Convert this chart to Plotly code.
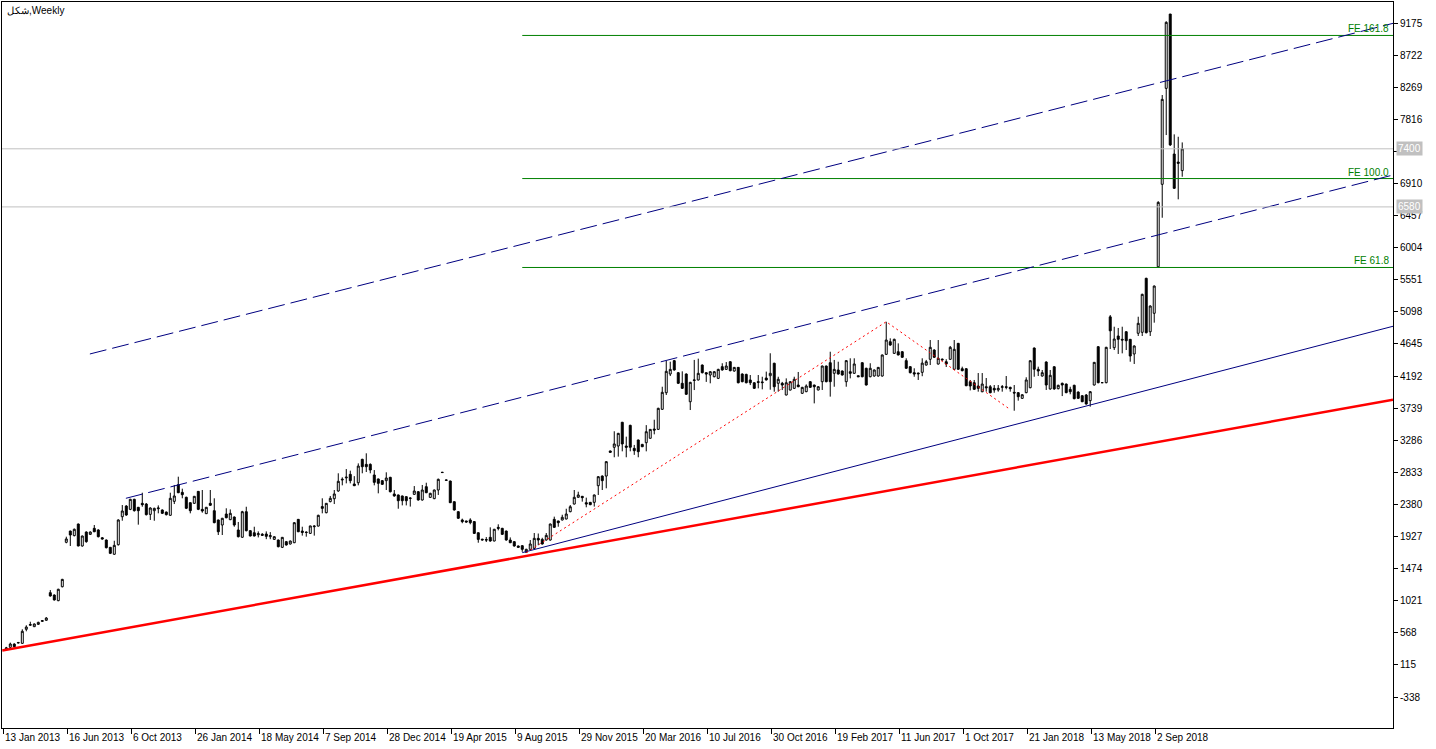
import plotly.graph_objects as go

# weekly bars, index 0 = 13 Jan 2013
opens = [
    340, 364, 410, 425, 420, 618, 675, 655, 688, 730, 745, 1135, 1102, 1022, 1219,
    1846, 2005, 1940, 2104, 1794, 1991, 1958, 2043, 2020, 1910, 1878, 1775, 1677, 1812,
    2207, 2358, 2311, 2453, 2340, 2396, 2386, 2240, 2292, 2320, 2302, 2273, 2227, 2424,
    2659, 2551, 2481, 2405, 2396, 2565, 2311, 2250, 2396, 2292, 2161, 2090, 2245, 2165,
    2203, 2020,
    1917, 2278, 2010, 1981, 1953, 1960, 1963, 1925, 1887, 1878, 1775, 1855, 1822, 1840,
    2170, 2005, 1990, 1972, 2066, 2075, 2350, 2264, 2420, 2461, 2570, 2725, 2755, 2805,
    2669, 2687, 3017, 2946, 2946, 2796, 2740, 2716, 2716, 2763, 2528, 2514, 2500, 2490,
    2465, 2523, 2560, 2443, 2631, 2480, 2462, 2584, 2830, 2720, 2711, 2419, 2278, 2161,
    2147,
    2161, 2138, 1981, 1890, 1885, 1916, 1864, 2057, 2043, 2005, 1878, 1855, 1794, 1798,
    1705, 1747, 1760, 1902, 1887, 1878, 1878, 2170, 2147, 2161, 2175, 2278, 2386, 2481,
    2495, 2405, 2410, 2410, 2645, 2781, 2781, 3135, 3187, 3205, 3540, 3205, 3497, 3172,
    3290, 3228, 3252, 3314, 3445, 3440, 3723, 3957, 4221, 4410, 4240, 4090, 4221, 3830,
    4130, 4137,
    4348, 4240, 4207, 4183, 4160, 4325, 4287, 4395, 4263, 4315, 4221, 4216, 4137, 4098,
    4113, 4110, 4165, 4197, 4373, 4090, 4090, 3925, 3995, 4019, 4066, 3949, 3972, 4113,
    4066, 3996, 4113, 4334, 4381, 4231, 4278, 4264, 4113, 4254, 4231, 4197, 4381, 4302,
    4183, 4193, 4193, 4193, 4499, 4677, 4513, 4536, 4536, 4410, 4325, 4240, 4235, 4245,
    4348, 4429,
    4560, 4362, 4419, 4395, 4429, 4288, 4654, 4296, 4296, 4113, 4099, 4052, 3971, 4042,
    4042, 4019, 3996, 4033, 4042, 4033, 3963, 3958, 3878, 3958, 4028, 4588, 4288, 4193,
    4391, 4010, 4324, 4014, 4090, 4080, 4005, 4062, 3967, 3915, 3925, 3845, 4066, 4607,
    4099, 4099, 5028, 4593, 4758, 4711, 4818, 4711, 4504, 4796, 4810, 5572, 4818, 5078,
    5735, 6899, 8253, 9302, 7326, 7213, 7092,
]
highs = [
    370, 430, 420, 440, 618, 675, 725, 700, 725, 745, 790, 1172, 1110, 1190, 1330,
    1925, 2010, 2040, 2110, 1940, 2000, 2000, 2090, 2030, 1920, 1885, 1780, 1868, 2170,
    2372, 2370, 2460, 2460, 2345, 2546, 2400, 2340, 2335, 2367, 2310, 2280, 2546, 2655,
    2772, 2603, 2490, 2410, 2500, 2570, 2584, 2345, 2584, 2467, 2165, 2190, 2326, 2310,
    2210, 2133,
    2290, 2348, 2015, 2066, 2000, 1975, 2000, 1990, 1930, 1885, 1920, 1865, 1870, 2130,
    2175, 2066, 2000, 2080, 2085, 2235, 2467, 2400, 2500, 2584, 2820, 2763, 2880, 2857,
    2780, 2960, 3025, 3102, 2960, 2866, 2745, 2725, 2834, 2770, 2584, 2520, 2505, 2495,
    2480, 2640, 2570, 2655, 2687, 2545, 2590, 2745, 2840, 2730, 2715, 2425, 2285, 2180,
    2150,
    2185, 2145, 1985, 1895, 1920, 2057, 2035, 2100, 2050, 2010, 1915, 1860, 1800, 1805,
    1755, 1878, 1977, 1970, 1910, 1977, 2110, 2208, 2150, 2235, 2320, 2372, 2584, 2560,
    2500, 2476, 2415, 2520, 2780, 2790, 2990, 3140, 3413, 3390, 3545, 3337, 3505, 3220,
    3295, 3235, 3500, 3445, 3576, 3745, 4042, 4410, 4395, 4420, 4250, 4259, 4230, 4110,
    4420, 4438,
    4355, 4245, 4260, 4260, 4295, 4373, 4390, 4400, 4320, 4320, 4230, 4225, 4207, 4105,
    4207, 4183, 4255, 4514, 4380, 4183, 4110, 4160, 4120, 4183, 4250, 4040, 4075, 4120,
    4070, 4050, 4340, 4340, 4536, 4420, 4395, 4270, 4415, 4443, 4443, 4200, 4385, 4310,
    4373, 4285, 4320, 4495, 4959, 4725, 4720, 4654, 4545, 4443, 4330, 4302, 4240, 4443,
    4420, 4701,
    4570, 4701, 4440, 4430, 4617, 4701, 4660, 4325, 4305, 4137, 4137, 4235, 4235, 4165,
    4066, 4066, 4066, 4066, 4193, 4042, 4066, 3965, 3935, 4175, 4415, 4595, 4325, 4278,
    4400, 4278, 4330, 4070, 4100, 4085, 4042, 4070, 3975, 3920, 3939, 3980, 4390, 4615,
    4105, 4605, 5054, 4889, 4871, 4889, 4825, 4715, 4625, 5030, 5355, 5580, 5190, 5470,
    6660, 8159, 9200, 9302, 7604, 7570, 7490,
]
lows = [
    320, 355, 365, 420, 415, 590, 665, 650, 680, 725, 740, 1080, 1025, 1015, 1210,
    1832, 1794, 1930, 1790, 1785, 1840, 1950, 1990, 1915, 1885, 1760, 1680, 1670, 1800,
    2151, 2220, 2300, 2280, 2095, 2348, 2225, 2161, 2150, 2255, 2245, 2225, 2220, 2386,
    2540, 2467, 2315, 2255, 2390, 2300, 2264, 2245, 2360, 2115, 1949, 1949, 2185, 2160,
    2066, 1915,
    1910, 2000, 1930, 1930, 1915, 1935, 1890, 1890, 1880, 1775, 1765, 1800, 1815, 1835,
    1990, 1940, 1925, 1965, 1940, 2070, 2255, 2255, 2410, 2386, 2560, 2650, 2678, 2678,
    2640, 2650, 2820, 2838, 2820, 2650, 2537, 2655, 2584, 2550, 2490, 2320, 2367, 2367,
    2350, 2515, 2435, 2435, 2540, 2475, 2455, 2514, 2825, 2715, 2400, 2295, 2175, 2115,
    2125,
    2100, 1965, 1840, 1870, 1850, 1855, 1860, 2015, 1950, 1870, 1835, 1785, 1770, 1712,
    1700, 1740, 1755, 1805, 1815, 1870, 1870, 2050, 2066, 2155, 2170, 2270, 2380, 2475,
    2420, 2340, 2370, 2350, 2514, 2584, 2608, 3110, 3046, 3055, 3130, 3046, 3130, 3080,
    3046, 3190, 3130, 3310, 3370, 3435, 3715, 3925, 4193, 4270, 4080, 4010, 3925, 3713,
    3995, 4130,
    4230, 4110, 4090, 4175, 4150, 4270, 4280, 4260, 4255, 4090, 4105, 4090, 4065, 4010,
    4019, 4005, 4130, 4000, 3972, 3972, 3995, 3920, 3990, 4010, 4035, 3940, 3965, 4025,
    3807, 3990, 3996, 4105, 3902, 4042, 4215, 4200, 4042, 4160, 4225, 4180, 4175, 4060,
    4175, 4185, 4185, 4185, 4490, 4620, 4505, 4485, 4450, 4295, 4230, 4183, 4137, 4190,
    4340, 4348,
    4450, 4355, 4410, 4320, 4420, 4280, 4280, 4260, 4050, 3990, 4000, 3972, 3965, 3972,
    3950, 3957, 3972, 3972, 4005, 3972, 3703, 3845, 3870, 3950, 4020, 4183, 4193, 4185,
    3996, 4000, 4000, 4005, 3910, 3950, 3935, 3865, 3870, 3825, 3790, 3760, 4060, 4090,
    4095, 4090, 4574, 4560, 4504, 4513, 4560, 4395, 4363, 4758, 4758, 4795, 4758, 4946,
    5725, 6427, 7594, 7440, 6835, 6687, 7006,
]
closes = [
    355, 410, 373, 430, 590, 650, 685, 693, 716, 740, 777, 1088, 1032, 1183, 1323,
    1893, 1949, 2030, 1794, 1935, 1855, 1991, 1995, 1925, 1893, 1770, 1690, 1803, 2161,
    2288, 2231, 2453, 2292, 2292, 2377, 2236, 2330, 2325, 2330, 2255, 2236, 2467, 2500,
    2546, 2518, 2326, 2292, 2495, 2311, 2288, 2340, 2368, 2123, 1995, 2185, 2193, 2255,
    2090, 1925,
    2278, 2010, 1935, 1935, 1967, 1945, 1930, 1940, 1925, 1784, 1916, 1808, 1864, 2123,
    1995, 1985, 1985, 2077, 2075, 2227, 2325, 2396, 2467, 2528, 2707, 2735, 2765, 2716,
    2645, 2922, 2913, 2913, 2866, 2692, 2678, 2664, 2753, 2560, 2500, 2433, 2433, 2433,
    2470, 2570, 2443, 2584, 2546, 2537, 2584, 2735, 2833, 2725, 2405, 2302, 2185, 2138,
    2133,
    2123, 1972, 1887, 1880, 1878, 1864, 2030, 2043, 1958, 1878, 1840, 1794, 1775, 1747,
    1747, 1822, 1902, 1878, 1822, 1944, 2104, 2057, 2123, 2199, 2245, 2348, 2481, 2514,
    2476, 2386, 2377, 2514, 2772, 2716, 2984, 3116, 3234, 3384, 3234, 3187, 3187, 3139,
    3125, 3195, 3407, 3440, 3430, 3737, 3963, 4259, 4287, 4278, 4090, 4019, 3935, 4104,
    4137, 4231,
    4240, 4221, 4254, 4254, 4287, 4278, 4334, 4268, 4315, 4098, 4113, 4098, 4098, 4019,
    4104, 4100, 4137, 4231, 4042, 4147, 4066, 4098, 4113, 4147, 4042, 4033, 4052, 4033,
    4042, 4042, 4334, 4113, 4113, 4287, 4221, 4207, 4410, 4231, 4363, 4183, 4183, 4066,
    4302, 4278, 4315, 4490, 4701, 4630, 4711, 4490, 4457, 4302, 4240, 4221, 4225, 4375,
    4395, 4598,
    4457, 4443, 4429, 4362, 4598, 4570, 4288, 4268, 4056, 4052, 4005, 4019, 4080, 4028,
    3957, 3996, 4019, 4042, 4033, 4014, 3953, 3901, 3929, 4137, 4409, 4288, 4264, 4240,
    4066, 4203, 4010, 4062, 4066, 3958, 3971, 3873, 3878, 3830, 3798, 3972, 4386, 4099,
    4099, 4598, 4831, 4715, 4711, 4701, 4691, 4475, 4617, 4937, 5346, 4804, 5181, 5463,
    6644, 8098, 9185, 7455, 6842, 7195, 7400,
]
bars = list(range(len(closes)))

date_tick_bars = list(range(0, 289, 16))
date_tick_labels = [
    "13 Jan 2013", "16 Jun 2013", "6 Oct 2013", "26 Jan 2014", "18 May 2014",
    "7 Sep 2014", "28 Dec 2014", "19 Apr 2015", "9 Aug 2015", "29 Nov 2015",
    "20 Mar 2016", "10 Jul 2016", "30 Oct 2016", "19 Feb 2017", "11 Jun 2017",
    "1 Oct 2017", "21 Jan 2018", "13 May 2018", "2 Sep 2018",
]
price_ticks = [9175, 8722, 8269, 7816, 7363, 6910, 6457, 6004, 5551, 5098, 4645,
               4192, 3739, 3286, 2833, 2380, 1927, 1474, 1021, 568, 115, -338]
hidden_tick = 7363  # covered by the 7400 price label in the terminal

# objects drawn on the chart (bar, price)
red_trend = [(-1.0, 320), (346.7, 3860)]
blue_trend = [(129, 1700), (346.7, 4895)]
channel_low = [(29.9, 2467), (346.7, 7030)]
channel_high = [(20.9, 4504), (346.7, 9171)]
fe_points = [(130, 1700), (220, 4959), (251, 3720)]
fe_names = ["FE 161.8", "FE 100.0", "FE 61.8"]
fe_levels = [9000, 6980, 5725]
fe_start = 129
grey_levels = [7400, 6580]

X_MIN, X_MAX = -1.075, 346.7
Y_MIN, Y_MAX = -775, 9472
FONT = "Liberation Sans"

fig = go.Figure()

fig.add_trace(go.Candlestick(
    x=bars, open=opens, high=highs, low=lows, close=closes,
    increasing=dict(line=dict(color="black", width=1), fillcolor="white"),
    decreasing=dict(line=dict(color="black", width=1), fillcolor="black"),
    whiskerwidth=0, showlegend=False, hoverinfo="skip"))

for lvl in grey_levels:
    fig.add_hline(y=lvl, line_color="#C0C0C0", line_width=1)

for name, lvl in zip(fe_names, fe_levels):
    fig.add_trace(go.Scatter(x=[fe_start, X_MAX], y=[lvl, lvl], mode="lines",
                             line=dict(color="#008000", width=1), showlegend=False))
    fig.add_annotation(x=X_MAX, y=lvl, xref="x", yref="y", text=name,
                       showarrow=False, xanchor="right", yanchor="bottom",
                       xshift=-2, yshift=-1,
                       font=dict(family=FONT, size=10, color="#008000"))


def add_line(pts, color, width, dash="solid"):
    fig.add_trace(go.Scatter(x=[p[0] for p in pts], y=[p[1] for p in pts],
                             mode="lines", line=dict(color=color, width=width, dash=dash),
                             showlegend=False, hoverinfo="skip"))


add_line(channel_high, "#000080", 1, "17px,6px")
add_line(channel_low, "#000080", 1, "17px,6px")
add_line(blue_trend, "#000080", 1)
add_line(red_trend, "#FF0000", 2.5)
add_line(fe_points, "#FF0000", 1, "2px,3px")

for lvl in grey_levels:
    fig.add_annotation(x=1, y=lvl, xref="paper", yref="y", text=str(lvl),
                       showarrow=False, xanchor="left", yanchor="middle", xshift=3,
                       bgcolor="#C0C0C0", borderpad=1,
                       font=dict(family=FONT, size=10, color="white"))

for b, lab in zip(date_tick_bars, date_tick_labels):
    fig.add_annotation(x=b - 0.8, y=0, xref="x", yref="paper", text=lab,
                       showarrow=False, xanchor="left", yanchor="top",
                       xshift=0, yshift=-2,
                       font=dict(family=FONT, size=10, color="black"))

fig.add_annotation(x=0, y=1, xref="paper", yref="paper", text="شكل,Weekly",
                   showarrow=False, xanchor="left", yanchor="top", xshift=3, yshift=-1,
                   font=dict(family=FONT, size=10, color="black"))

fig.update_xaxes(range=[X_MIN, X_MAX], tickvals=[b - 0.8 for b in date_tick_bars],
                 showticklabels=False, ticks="outside", ticklen=5, tickcolor="black",
                 showgrid=False, zeroline=False, showline=True, linecolor="black",
                 linewidth=1, mirror=True, rangeslider_visible=False)
fig.update_yaxes(range=[Y_MIN, Y_MAX], side="right", tickvals=price_ticks,
                 ticktext=["" if v == hidden_tick else str(v) for v in price_ticks],
                 ticks="outside", ticklen=4,
                 tickcolor="black", showgrid=False, zeroline=False, showline=True,
                 linecolor="black", linewidth=1, mirror=True,
                 tickfont=dict(family=FONT, size=10, color="black"))

fig.update_layout(width=1436, height=749, plot_bgcolor="white", paper_bgcolor="white",
                  margin=dict(l=2, r=43, t=2, b=21), showlegend=False,
                  hovermode=False)

# drop the browser's default page margin so the figure sits at the window corner
fig.write_html("out.html", config={"displayModeBar": False},
               post_script="document.body.style.margin='0';")
